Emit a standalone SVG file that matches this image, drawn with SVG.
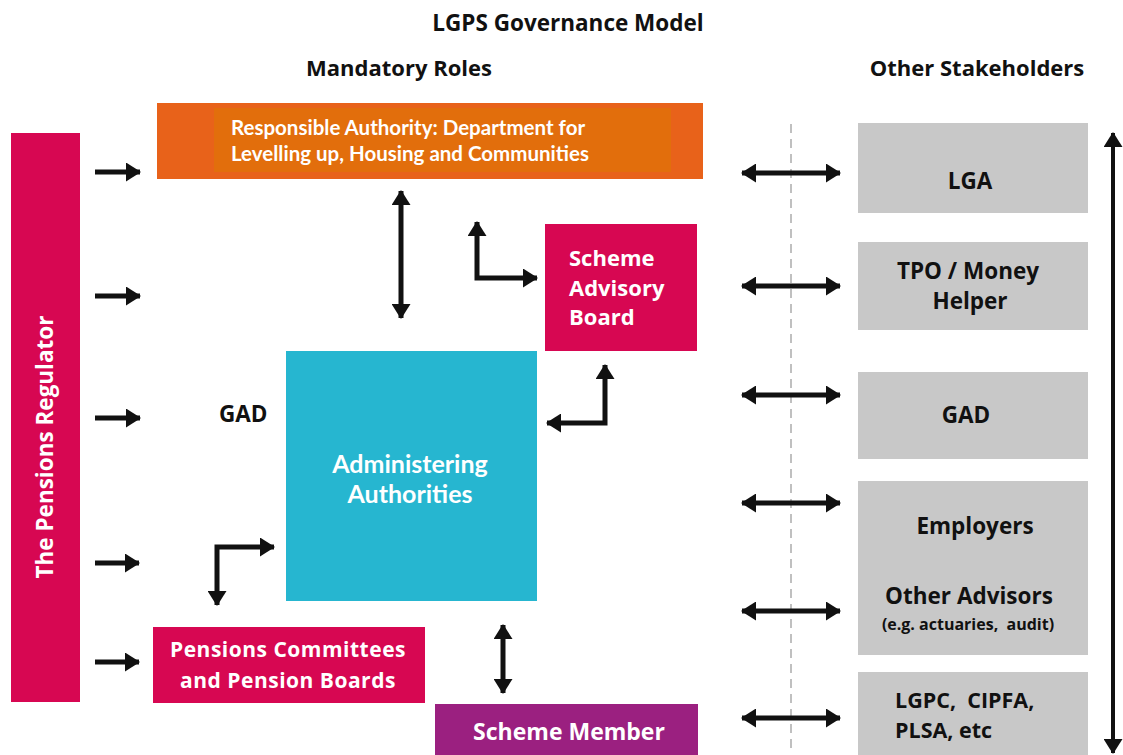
<svg xmlns="http://www.w3.org/2000/svg" width="1123" height="755" viewBox="0 0 1123 755">
<style>
.h{font-family:"Open Sans","DejaVu Sans",sans-serif;font-weight:bold;fill:#111;}
.w{font-family:"Open Sans","DejaVu Sans",sans-serif;font-weight:bold;fill:#fff;}
.l{font-family:Lato,"Open Sans",sans-serif;font-weight:bold;fill:#fff;}
.g{fill:#C8C8C8;}
.pk{fill:#D70752;}
.a{stroke:#111;stroke-width:5;fill:none;}
.a2{stroke:#111;stroke-width:4;fill:none;}
</style>
<defs>
<marker id="ah" markerUnits="userSpaceOnUse" markerWidth="15" markerHeight="19" refX="14" refY="9.5" orient="auto-start-reverse">
<path d="M0,0 L15,9.5 L0,19 z" fill="#111"/>
</marker>
</defs>
<rect width="1123" height="755" fill="#fff"/>
<text class="h" x="568" y="31" font-size="22.5" text-anchor="middle">LGPS Governance Model</text>
<text class="h" x="399" y="76" font-size="22" text-anchor="middle">Mandatory Roles</text>
<text class="h" x="977" y="76" font-size="22" text-anchor="middle">Other Stakeholders</text>

<g id="pensions-regulator">
<rect class="pk" x="11" y="133" width="69" height="569"/>
<text class="w" transform="translate(53,447) rotate(-90)" font-size="22.5" text-anchor="middle">The Pensions Regulator</text>
</g>
<g id="responsible-authority">
<rect x="157" y="103" width="546" height="76" fill="#E8621A"/>
<rect x="214" y="108" width="457" height="64" fill="#E26E0C"/>
<text class="l" x="231" y="135" font-size="20.5">Responsible Authority: Department for</text>
<text class="l" x="231" y="161" font-size="20.5">Levelling up, Housing and Communities</text>
</g>
<g id="scheme-advisory-board">
<rect class="pk" x="545" y="224" width="152" height="127"/>
<text class="w" x="569" y="266" font-size="22">Scheme</text>
<text class="w" x="569" y="296" font-size="22">Advisory</text>
<text class="w" x="569" y="325" font-size="22">Board</text>
</g>
<g id="administering-authorities">
<rect x="286" y="351" width="251" height="250" fill="#26B6D0"/>
<text class="l" x="410" y="473" font-size="25" text-anchor="middle">Administering</text>
<text class="l" x="410" y="503" font-size="25" text-anchor="middle">Authorities</text>
</g>
<g id="gad-label">
<text class="h" x="219" y="422" font-size="22.5">GAD</text>
</g>
<g id="pensions-committees">
<rect class="pk" x="153" y="627" width="272" height="76"/>
<text class="w" x="288" y="657" font-size="21" text-anchor="middle" letter-spacing="0.5">Pensions Committees</text>
<text class="w" x="288" y="688" font-size="21" text-anchor="middle" letter-spacing="0.5">and Pension Boards</text>
</g>
<g id="scheme-member">
<rect x="435" y="704" width="263" height="51" fill="#9B2080"/>
<text class="w" x="569" y="740" font-size="23" text-anchor="middle">Scheme Member</text>
</g>
<g id="lga">
<rect class="g" x="858" y="123" width="230" height="90"/>
<text class="h" x="970" y="189" font-size="22.5" text-anchor="middle">LGA</text>
</g>
<g id="tpo">
<rect class="g" x="858" y="242" width="230" height="88"/>
<text class="h" x="968" y="279" font-size="22.5" text-anchor="middle">TPO / Money</text>
<text class="h" x="970" y="309" font-size="22.5" text-anchor="middle">Helper</text>
</g>
<g id="gad">
<rect class="g" x="858" y="372" width="230" height="87"/>
<text class="h" x="966" y="423" font-size="22.5" text-anchor="middle">GAD</text>
</g>
<g id="employers-advisors">
<rect class="g" x="858" y="481" width="230" height="174"/>
<text class="h" x="975" y="534" font-size="22.5" text-anchor="middle">Employers</text>
<text class="h" x="969" y="604" font-size="22.5" text-anchor="middle">Other Advisors</text>
<text class="h" x="968" y="630" font-size="16" text-anchor="middle" font-weight="600" xml:space="preserve">(e.g. actuaries,  audit)</text>
</g>
<g id="lgpc">
<rect class="g" x="858" y="672" width="230" height="83"/>
<text class="h" x="895" y="708" font-size="21.5" xml:space="preserve">LGPC,  CIPFA,</text>
<text class="h" x="895" y="738" font-size="21.5">PLSA, etc</text>
</g>

<g id="connectors">
<line x1="791" y1="124" x2="791" y2="748" stroke="#C0C0C0" stroke-width="2" stroke-dasharray="9,6"/>
<line class="a" x1="95" y1="172" x2="140" y2="172" marker-end="url(#ah)"/>
<line class="a" x1="95" y1="296" x2="140" y2="296" marker-end="url(#ah)"/>
<line class="a" x1="95" y1="418" x2="140" y2="418" marker-end="url(#ah)"/>
<line class="a" x1="95" y1="563" x2="139" y2="563" marker-end="url(#ah)"/>
<line class="a" x1="95" y1="662" x2="139" y2="662" marker-end="url(#ah)"/>
<line class="a" x1="401" y1="191" x2="401" y2="318" marker-start="url(#ah)" marker-end="url(#ah)"/>
<polyline class="a" points="477,222 477,278 537,278" marker-start="url(#ah)" marker-end="url(#ah)"/>
<polyline class="a" points="605,365 605,423 547,423" marker-start="url(#ah)" marker-end="url(#ah)"/>
<polyline class="a" points="217,605 217,547 274,547" marker-start="url(#ah)" marker-end="url(#ah)"/>
<line class="a" x1="503" y1="625" x2="503" y2="693" marker-start="url(#ah)" marker-end="url(#ah)"/>
<line class="a" x1="742" y1="173" x2="840" y2="173" marker-start="url(#ah)" marker-end="url(#ah)"/>
<line class="a" x1="742" y1="286" x2="840" y2="286" marker-start="url(#ah)" marker-end="url(#ah)"/>
<line class="a" x1="742" y1="395" x2="840" y2="395" marker-start="url(#ah)" marker-end="url(#ah)"/>
<line class="a" x1="742" y1="503" x2="840" y2="503" marker-start="url(#ah)" marker-end="url(#ah)"/>
<line class="a" x1="742" y1="611" x2="840" y2="611" marker-start="url(#ah)" marker-end="url(#ah)"/>
<line class="a" x1="742" y1="718" x2="840" y2="718" marker-start="url(#ah)" marker-end="url(#ah)"/>
<line class="a2" x1="1113" y1="133" x2="1113" y2="753" marker-start="url(#ah)" marker-end="url(#ah)"/>
</g>
</svg>
